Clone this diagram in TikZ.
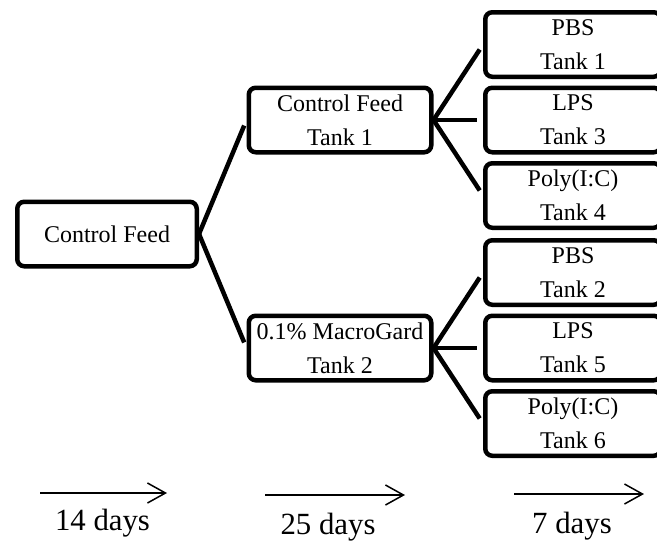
\documentclass[tikz,border=0pt]{standalone}
\usepackage{fontspec}
\setmainfont{Liberation Serif}
\usetikzlibrary{arrows.meta}
\tikzset{
    tankbox/.style={
        rectangle,
        rounded corners=3.5pt,
        draw=black, % black outline
        line width=2.25pt, % thick outline
        minimum height=32.25pt,
        inner sep=0,
        align=center,
        font=\fontsize{12}{17}\selectfont
    },
    dayarrow/.style={
        line width=0.75pt,
        -{Straight Barb[length=9pt,width=10pt]}
    },
    daylabel/.style={
        anchor=base,
        inner sep=0,
        font=\fontsize{15.4}{18}\selectfont
    }
}

\begin{document}
\begin{tikzpicture}[
                grow'=right,
                level distance=116.5pt,
                level 1/.style={sibling distance=114pt, nodes={minimum width=91.25pt}},
                level 2/.style={sibling distance=37.75pt, nodes={minimum width=87.75pt, minimum height=31.25pt}},
                every child node/.style={tankbox},
                edge from parent/.style={draw, line width=2.25pt, shorten >=3pt},
                edge from parent path={(\tikzparentnode.east) -- (\tikzchildnode.west)}
            ]
            \path[use as bounding box, clip] (0,0) rectangle (328.5pt,-270.5pt);
            % feeding and challenge groups
            \node[tankbox, minimum width=89.75pt] (feed) at (53.5pt,-117pt) {Control Feed}
                child {
                    node (ctrl) {Control Feed\\Tank 1}
                    child { node (pbsa) {PBS\\Tank 1} }
                    child { node (lpsa) {LPS\\Tank 3} }
                    child { node (polya) {Poly(I:C)\\Tank 4} }
                }
                child {
                    node (macro) {0.1\% MacroGard\\Tank 2}
                    child { node (pbsb) {PBS\\Tank 2} }
                    child { node (lpsb) {LPS\\Tank 5} }
                    child { node (polyb) {Poly(I:C)\\Tank 6} }
                };
            % time line
            \node[daylabel] (fourteen) at (51.25pt,-265pt) {14 days};
            \node[daylabel] (twentyfive) at (164pt,-267pt) {25 days};
            \node[daylabel] (seven) at (286pt,-266.5pt) {7 days};
            \coordinate (fourteenstart) at (20pt,-246.5pt);
            \coordinate (fourteenend) at (83.5pt,-246.5pt);
            \coordinate (twentyfivestart) at (132.5pt,-247.5pt);
            \coordinate (twentyfiveend) at (202.5pt,-247.5pt);
            \coordinate (sevenstart) at (257pt,-247pt);
            \coordinate (sevenend) at (322pt,-247pt);
            \draw[dayarrow] (fourteenstart) -- (fourteenend);
            \draw[dayarrow] (twentyfivestart) -- (twentyfiveend);
            \draw[dayarrow] (sevenstart) -- (sevenend);
            \end{tikzpicture}
\end{document}
